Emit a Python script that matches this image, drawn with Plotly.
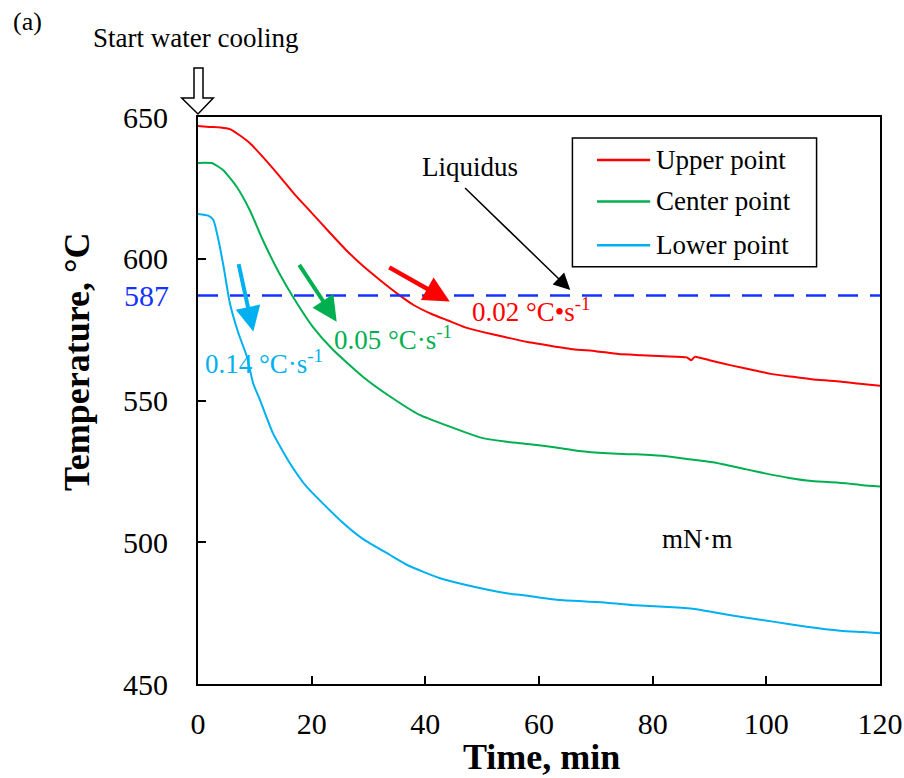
import plotly.graph_objects as go

# ---------------- data ----------------
t_upper = [0, 2, 4, 5.6, 7, 9, 11, 14.4, 17, 20, 23, 26, 29, 32, 35, 38, 41, 44, 47, 50,
           54, 58, 62, 66, 70, 74, 78, 82, 86, 86.8, 87.4, 90, 94, 98, 101, 105, 109, 113, 116, 120]
T_upper = [646.8, 646.5, 646.3, 645.7, 644.0, 641.0, 636.8, 629.0, 622.7, 616.2, 609.6, 603.2,
           597.5, 592.5, 587.8, 583.6, 580.6, 578.2, 575.8, 574.2, 572.4, 570.6, 569.3, 568.1,
           567.4, 566.4, 566.0, 565.6, 565.2, 564.2, 565.4, 564.2, 562.3, 560.6, 559.3, 558.3,
           557.3, 556.7, 556.0, 555.2]

t_center = [0, 2.5, 4.4, 6.8, 9.1, 11.4, 14.4, 16.7, 20.2, 23.8, 29, 33.8, 39, 44, 49.6, 54,
            58.4, 63, 67, 72, 77, 82, 86, 90.6, 96.5, 100, 104, 108, 114, 117, 120]
T_center = [633.8, 633.7, 631.3, 625.4, 617.2, 606.6, 594.5, 586.6, 576.0, 567.8, 558.4, 551.4,
            544.9, 541.0, 537.0, 535.5, 534.6, 533.4, 532.2, 531.4, 531.0, 530.4, 529.4, 528.2,
            525.7, 524.2, 522.7, 521.6, 520.8, 520.1, 519.7]

t_lower = [0, 1.8, 2.7, 3.6, 4.5, 5.6, 7.1, 8.6, 9.7, 10.9, 13.2, 16.2, 19.1, 25, 29, 33.8,
           37, 42.6, 47, 54.3, 58, 63.7, 71.9, 77, 83.6, 87.7, 91, 95.4, 101.2, 107.1, 113, 117, 120]
T_lower = [615.8, 615.2, 613.7, 606.6, 597.2, 584.4, 573.8, 565.5, 556.1, 550.2, 538.4, 527.8,
           519.6, 507.8, 501.2, 495.5, 491.8, 487.3, 485.0, 482.0, 481.1, 479.6, 478.7,
           477.8, 477.1, 476.4, 475.2, 473.7, 472.0, 470.2, 468.8, 468.3, 467.9]

LIQUIDUS = 587
x_ticks = [0, 20, 40, 60, 80, 100, 120]
y_ticks = [450, 500, 550, 600, 650]

series_names = ["Upper point", "Center point", "Lower point"]
series_colors = ["#FF0000", "#00B050", "#00B0F0"]

FONT = "Liberation Serif, Times New Roman, serif"

fig = go.Figure()
for name, tx, ty, col in zip(series_names, [t_upper, t_center, t_lower],
                             [T_upper, T_center, T_lower], series_colors):
    fig.add_trace(go.Scatter(x=tx, y=ty, mode="lines", name=name,
                             line=dict(color=col, width=2, shape="spline", smoothing=0.5),
                             showlegend=False))

fig.add_trace(go.Scatter(x=[x_ticks[0], x_ticks[-1]], y=[LIQUIDUS, LIQUIDUS], mode="lines",
                         line=dict(color="#1433FF", width=2.5, dash="20px,12px"),
                         showlegend=False))

fig.update_layout(
    width=904, height=778,
    margin=dict(l=198, r=24, t=117, b=94),
    paper_bgcolor="white", plot_bgcolor="white",
    font=dict(family=FONT, color="black"),
    xaxis=dict(range=[0, 120], tickvals=x_ticks, ticks="inside", ticklen=8, tickwidth=1.5,
               tickcolor="black", showline=True, linecolor="black", linewidth=2, mirror=True,
               showgrid=False, zeroline=False, tickfont=dict(size=30, family=FONT),
               ticklabelstandoff=12, automargin=False),
    yaxis=dict(range=[450, 650], tickvals=y_ticks, ticks="inside", ticklen=8, tickwidth=1.5,
               tickcolor="black", showline=True, linecolor="black", linewidth=2, mirror=True,
               showgrid=False, zeroline=False, tickfont=dict(size=30, family=FONT),
               ticklabelstandoff=22, automargin=False),
)

def A(**kw):
    kw.setdefault("xanchor", "center")
    kw.setdefault("yanchor", "middle")
    kw.setdefault("showarrow", False)
    return kw

ann = []
# axis titles
ann.append(A(text="<b>Temperature, °C</b>", xref="paper", yref="paper", x=-0.1774, y=0.568,
             textangle=-90, font=dict(size=36, family=FONT)))
ann.append(A(text="<b>Time, min</b>", xref="paper", yref="paper", x=0.504, y=-0.1287,
             font=dict(size=36, family=FONT)))
# 587 label
ann.append(A(text=str(LIQUIDUS), xref="paper", yref="y", x=0, y=LIQUIDUS, xshift=-27,
             xanchor="right", font=dict(size=30, family=FONT, color="#1433FF")))
# (a) and Start water cooling
ann.append(A(text="(a)", xref="paper", yref="paper", x=-0.2507, y=1.1676,
             font=dict(size=26, family=FONT)))
ann.append(A(text="Start water cooling", xref="paper", yref="paper", x=-0.0037, y=1.1393,
             font=dict(size=27, family=FONT)))
# Liquidus
ann.append(A(text="Liquidus", x=47.9, y=632.5, font=dict(size=27, family=FONT)))
ann.append(dict(text="", x=65.5, y=589.0, ax=-106.7, ay=-103.3, showarrow=True, arrowhead=2,
                arrowsize=2.2, arrowwidth=1.5, arrowcolor="black"))
# rate arrows
ann.append(dict(text="", x=44.3, y=584.9, ax=-62, ay=-35, showarrow=True, arrowhead=2,
                arrowsize=1.15, arrowwidth=4.5, arrowcolor="#FF0000"))
ann.append(dict(text="", x=24.4, y=577.8, ax=-38.4, ay=-58.4, showarrow=True, arrowhead=2,
                arrowsize=1.25, arrowwidth=4, arrowcolor="#00B050"))
ann.append(dict(text="", x=9.73, y=574.3, ax=-15, ay=-69, showarrow=True, arrowhead=2,
                arrowsize=1.25, arrowwidth=4, arrowcolor="#00B0F0"))
# rate texts
ann.append(A(text="0.02 °C•s<sup>-1</sup>", x=47.9, y=582.0, xanchor="left",
             font=dict(size=27, family=FONT, color="#FF0000")))
ann.append(A(text="0.05 °C·s<sup>-1</sup>", x=23.5, y=572.0, xanchor="left",
             font=dict(size=27, family=FONT, color="#00B050")))
ann.append(A(text="0.14 °C·s<sup>-1</sup>", x=0.88, y=563.5, xanchor="left",
             font=dict(size=27, family=FONT, color="#00B0F0")))
# mN·m
ann.append(A(text="mN·m", x=87.8, y=501.1, font=dict(size=27, family=FONT)))

# manual legend
shapes = []
shapes.append(dict(type="rect", xref="paper", yref="paper", x0=0.549, x1=0.907, y0=0.736, y1=0.963,
                   line=dict(color="black", width=1.5), fillcolor="white", layer="above"))
leg_y = [0.924, 0.851, 0.774]
for name, col, ly in zip(series_names, series_colors, leg_y):
    shapes.append(dict(type="line", xref="paper", yref="paper", x0=0.585, x1=0.663, y0=ly, y1=ly,
                       line=dict(color=col, width=2.5), layer="above"))
    ann.append(A(text=name, xref="paper", yref="paper", x=0.668, y=ly, xanchor="left",
                 font=dict(size=27, family=FONT)))

# hollow "start" arrow
xl, xr, hl, hr = -0.00587, 0.00733, -0.0239, 0.0224
yt, yb, ytip = 1.0864, 1.0335, 1.0053
path = (f"M {xl},{yt} L {xr},{yt} L {xr},{yb} L {hr},{yb} L 0,{ytip} "
        f"L {hl},{yb} L {xl},{yb} Z")
shapes.append(dict(type="path", xref="paper", yref="paper", path=path,
                   line=dict(color="black", width=1.5), fillcolor="white"))

fig.update_layout(annotations=ann, shapes=shapes)
fig.write_html("out.html")
